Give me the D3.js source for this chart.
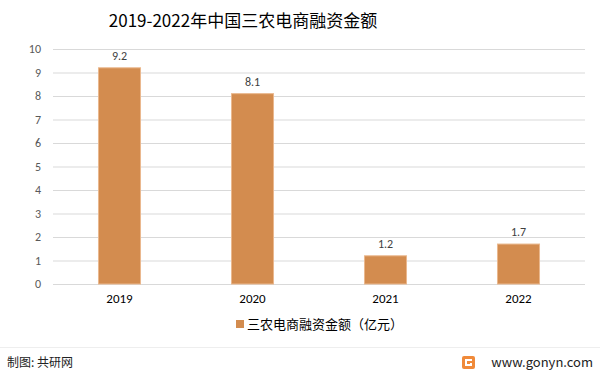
<!DOCTYPE html>
<html>
<head>
<meta charset="utf-8">
<script src="https://cdn.jsdelivr.net/npm/d3@7"></script>
<style>
  body { margin: 0; background: #fff; }
  svg { display: block; font-family: "Microsoft YaHei", "Noto Sans CJK SC", sans-serif; }
</style>
</head>
<body>
<svg id="chart" width="600" height="375"></svg>
<script>
// data
var years = ["2019", "2020", "2021", "2022"];
var amounts = [9.2, 8.1, 1.2, 1.7];
var yTicks = [0, 1, 2, 3, 4, 5, 6, 7, 8, 9, 10];
var seriesName = "三农电商融资金额（亿元）";
var titleText = "2019-2022年中国三农电商融资金额";

var svg = d3.select("#chart"),
  width = 600,
  height = 375;

var x = d3.scaleBand().domain(years).range([53, 585]).paddingInner(0.684).paddingOuter(0.342);
var y = d3.scaleLinear().domain([0, 10]).range([284, 49]);

// title
svg.append("text")
  .attr("x", 243)
  .attr("y", 27)
  .attr("text-anchor", "middle")
  .attr("font-size", 17)
  .attr("fill", "#000")
  .text(titleText);

// grid lines
svg.append("g")
  .selectAll("line")
  .data(yTicks)
  .enter()
  .append("line")
  .attr("x1", 53)
  .attr("x2", 585)
  .attr("y1", function (d) { return y(d) + 0.5; })
  .attr("y2", function (d) { return y(d) + 0.5; })
  .attr("stroke", "#d9d9d9")
  .attr("stroke-width", 1);

// y axis labels
var yAxis = d3.axisLeft(y).tickValues(yTicks).tickSize(0).tickPadding(0);
var gy = svg.append("g").attr("transform", "translate(41,0)").call(yAxis);
gy.select(".domain").remove();
gy.selectAll("text")
  .attr("font-family", "Calibri, 'Liberation Sans', sans-serif")
  .attr("font-size", 12)
  .attr("fill", "#595959");

// x axis labels
var xAxis = d3.axisBottom(x).tickSize(0).tickPadding(0);
var gx = svg.append("g").attr("transform", "translate(0,294)").call(xAxis);
gx.select(".domain").remove();
gx.selectAll("text")
  .attr("font-family", "Calibri, 'Liberation Sans', sans-serif")
  .attr("font-size", 13)
  .attr("fill", "#000");

// bars
svg.append("g")
  .selectAll("rect")
  .data(amounts)
  .enter()
  .append("rect")
  .attr("x", function (d, i) { return x(years[i]); })
  .attr("y", function (d) { return y(d); })
  .attr("width", x.bandwidth())
  .attr("height", function (d) { return y(0) - y(d); })
  .attr("fill", "#d38c4f")
  .attr("stroke", "#eab88e")
  .attr("stroke-width", 1);

// value labels
svg.append("g")
  .selectAll("text")
  .data(amounts)
  .enter()
  .append("text")
  .attr("x", function (d, i) { return x(years[i]) + x.bandwidth() / 2; })
  .attr("y", function (d) { return y(d) - 8; })
  .attr("text-anchor", "middle")
  .attr("font-family", "Calibri, 'Liberation Sans', sans-serif")
  .attr("font-size", 12)
  .attr("fill", "#404040")
  .text(function (d) { return d.toFixed(1); });

// legend
svg.append("rect")
  .attr("x", 236)
  .attr("y", 320)
  .attr("width", 8)
  .attr("height", 8)
  .attr("fill", "#d38c4f");
svg.append("text")
  .attr("x", 247)
  .attr("y", 329)
  .attr("font-size", 13)
  .attr("fill", "#000")
  .text(seriesName);

// footer
svg.append("line")
  .attr("x1", 0)
  .attr("x2", 600)
  .attr("y1", 347.5)
  .attr("y2", 347.5)
  .attr("stroke", "#eeeeee");
svg.append("text")
  .attr("x", 7)
  .attr("y", 367)
  .attr("font-size", 12)
  .attr("fill", "#222")
  .text("制图: 共研网");

// logo
var logo = svg.append("g").attr("transform", "translate(462,356)");
logo.append("rect").attr("width", 13).attr("height", 13).attr("rx", 2).attr("fill", "#f08a3a");
logo.append("path")
  .attr("d", "M3,3 H10 V5 H5 V8 H8 V7 H10 V10 H3 Z")
  .attr("fill", "#fff");
svg.append("text")
  .attr("x", 593)
  .attr("y", 367)
  .attr("text-anchor", "end")
  .attr("font-size", 13)
  .attr("fill", "#222")
  .text("www.gonyn.com");
</script>
</body>
</html>
